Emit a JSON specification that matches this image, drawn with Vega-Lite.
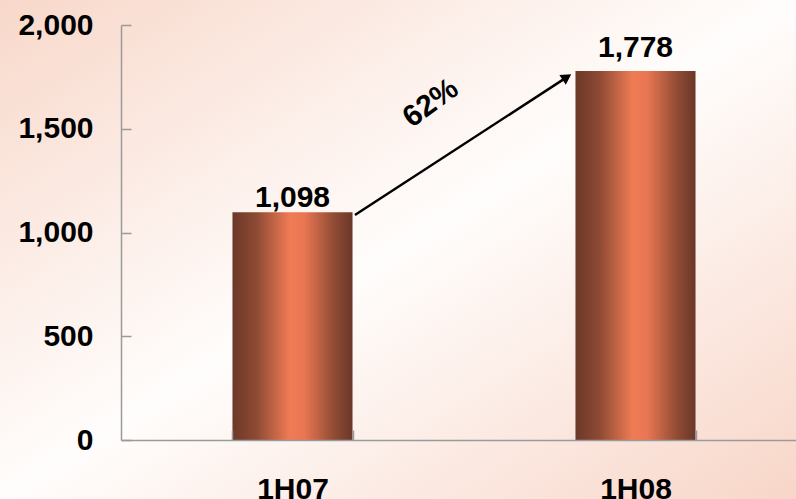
{
  "$schema": "https://vega.github.io/schema/vega-lite/v6.json",
  "width": 796,
  "height": 499,
  "autosize": {"type": "none"},
  "padding": 0,
  "background": "#ffffff",
  "config": {
    "view": {"stroke": null},
    "font": "Liberation Sans",
    "text": {"font": "Liberation Sans"}
  },
  "datasets": {
    "bars": [
      {"period": "1H07", "value": 1098, "label": "1,098"},
      {"period": "1H08", "value": 1778, "label": "1,778"}
    ],
    "arrow": [
      {"x": 0.682, "y": 1084, "x2": 1.30, "y2": 1749}
    ],
    "head": [
      {"x": 1.300, "y": 1749}
    ],
    "growth": [
      {"x": 0.903, "y": 1623, "text": "62%"}
    ]
  },
  "resolve": {"scale": {"x": "independent"}, "axis": {"x": "independent"}},
  "layer": [
    {
      "data": {"values": [{"bg": 1}]},
      "mark": {
        "type": "rect",
        "color": {
          "gradient": "linear",
          "x1": 0, "y1": 0, "x2": 1, "y2": 1,
          "stops": [
            {"offset": 0, "color": "#f8d8ca"},
            {"offset": 0.5, "color": "#fffdfc"},
            {"offset": 1, "color": "#f8d6c8"}
          ]
        }
      },
      "encoding": {}
    },
    {
      "data": {"name": "bars"},
      "mark": {
        "type": "bar",
        "color": {
          "gradient": "linear",
          "x1": 0, "y1": 0, "x2": 1, "y2": 0,
          "stops": [
            {"offset": 0, "color": "#6c3829"},
            {"offset": 0.2, "color": "#8d4a33"},
            {"offset": 0.48, "color": "#f07b55"},
            {"offset": 0.6, "color": "#e87652"},
            {"offset": 0.85, "color": "#8f4b34"},
            {"offset": 1, "color": "#6a3728"}
          ]
        }
      },
      "encoding": {
        "x": {
          "field": "period",
          "type": "nominal",
          "sort": null,
          "scale": {"range": [121, 807], "paddingInner": 0.65, "paddingOuter": 0.325},
          "axis": {
            "title": null,
            "orient": "bottom",
            "offset": -59,
            "zindex": 1,
            "labelAngle": 0,
            "tickBand": "extent",
            "tickSize": -10,
            "labelPadding": 44,
            "labelFontSize": 30,
            "labelFontWeight": "bold",
            "labelColor": "#000000",
            "labelFont": "Liberation Sans",
            "domainColor": "#9a9a9a",
            "domainWidth": 1.5,
            "tickColor": "#9a9a9a",
            "tickWidth": 1.5,
            "grid": false
          }
        },
        "y": {
          "field": "value",
          "type": "quantitative",
          "scale": {"domain": [0, 2000], "range": [440, 25], "nice": false, "zero": true},
          "axis": {
            "title": null,
            "orient": "left",
            "offset": -121,
            "zindex": 1,
            "values": [0, 500, 1000, 1500, 2000],
            "format": ",d",
            "tickSize": -10,
            "labelPadding": 38,
            "labelFontSize": 30,
            "labelFontWeight": "bold",
            "labelColor": "#000000",
            "labelFont": "Liberation Sans",
            "domainColor": "#9a9a9a",
            "domainWidth": 1.5,
            "tickColor": "#9a9a9a",
            "tickWidth": 1.5,
            "grid": false
          }
        }
      }
    },
    {
      "data": {"name": "bars"},
      "transform": [{"filter": "datum.period == '1H07'"}],
      "mark": {"type": "text", "fontSize": 30, "fontWeight": "bold", "color": "#000000", "baseline": "alphabetic", "dy": -5},
      "encoding": {
        "x": {"field": "period", "type": "nominal", "scale": {"domain": ["1H07", "1H08"], "range": [121, 807], "paddingInner": 0.65, "paddingOuter": 0.325}, "axis": null},
        "y": {"field": "value", "type": "quantitative"},
        "text": {"field": "label"}
      }
    },
    {
      "data": {"name": "bars"},
      "transform": [{"filter": "datum.period == '1H08'"}],
      "mark": {"type": "text", "fontSize": 30, "fontWeight": "bold", "color": "#000000", "baseline": "alphabetic", "dy": -14},
      "encoding": {
        "x": {"field": "period", "type": "nominal", "scale": {"domain": ["1H07", "1H08"], "range": [121, 807], "paddingInner": 0.65, "paddingOuter": 0.325}, "axis": null},
        "y": {"field": "value", "type": "quantitative"},
        "text": {"field": "label"}
      }
    },
    {
      "data": {"name": "arrow"},
      "mark": {"type": "rule", "color": "#000000", "strokeWidth": 2.5},
      "encoding": {
        "x": {"field": "x", "type": "quantitative", "scale": {"domain": [0, 2], "range": [121, 807], "nice": false, "zero": false}, "axis": null},
        "x2": {"field": "x2"},
        "y": {"field": "y", "type": "quantitative"},
        "y2": {"field": "y2"}
      }
    },
    {
      "data": {"name": "head"},
      "mark": {"type": "point", "shape": "triangle-up", "filled": true, "color": "#000000", "opacity": 1, "size": 140, "angle": 57},
      "encoding": {
        "x": {"field": "x", "type": "quantitative", "scale": {"domain": [0, 2], "range": [121, 807], "nice": false, "zero": false}, "axis": null},
        "y": {"field": "y", "type": "quantitative"}
      }
    },
    {
      "data": {"name": "growth"},
      "mark": {"type": "text", "fontSize": 30, "fontWeight": "bold", "color": "#000000", "angle": -36, "align": "center", "baseline": "middle"},
      "encoding": {
        "x": {"field": "x", "type": "quantitative", "scale": {"domain": [0, 2], "range": [121, 807], "nice": false, "zero": false}, "axis": null},
        "y": {"field": "y", "type": "quantitative"},
        "text": {"field": "text"}
      }
    }
  ]
}
